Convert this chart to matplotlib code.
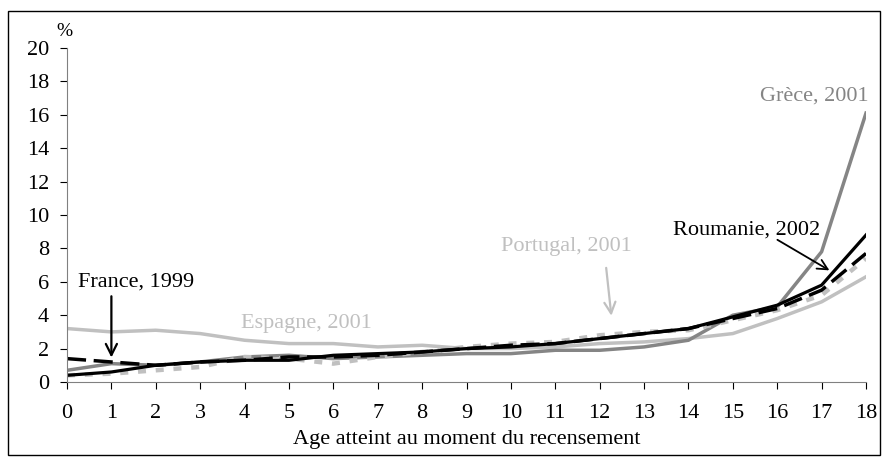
import matplotlib.pyplot as plt
from matplotlib.patches import Rectangle

# Données (lecture du graphique)
ages = list(range(19))
espagne = [3.2, 3.0, 3.1, 2.9, 2.5, 2.3, 2.3, 2.1, 2.2, 2.0, 2.0, 2.1, 2.3, 2.4, 2.6, 2.9, 3.8, 4.8, 6.3]
grece = [0.7, 1.1, 1.0, 1.2, 1.5, 1.6, 1.4, 1.5, 1.6, 1.7, 1.7, 1.9, 1.9, 2.1, 2.5, 4.0, 4.5, 7.8, 16.1]
france = [1.4, 1.2, 1.0, 1.2, 1.3, 1.5, 1.5, 1.6, 1.8, 2.0, 2.2, 2.3, 2.6, 2.9, 3.2, 3.8, 4.4, 5.5, 7.7]
roumanie = [0.4, 0.6, 1.0, 1.2, 1.3, 1.3, 1.6, 1.7, 1.8, 2.0, 2.1, 2.3, 2.6, 2.9, 3.2, 3.9, 4.6, 5.8, 8.8]
portugal = [0.4, 0.5, 0.7, 0.9, 1.5, 1.4, 1.1, 1.5, 1.8, 2.1, 2.3, 2.4, 2.8, 3.0, 3.1, 3.7, 4.3, 5.2, 7.4]
yticks = list(range(0, 21, 2))

plt.rcParams['font.family'] = ['Liberation Serif', 'DejaVu Serif']
plt.rcParams['font.size'] = 16

fig = plt.figure(figsize=(8.83, 4.59), dpi=100)
ax = fig.add_axes([67 / 883, 1 - 382 / 459, 799 / 883, 334 / 459])

# cadre autour de la figure
fig.patches.append(Rectangle((8 / 883, 4 / 459), 872 / 883, 444 / 459, transform=fig.transFigure,
                             fill=False, edgecolor='black', linewidth=1))

gris_clair = '#c0c0c0'
gris = '#858585'

ax.plot(ages, espagne, color=gris_clair, lw=2.5)
ax.plot(ages, grece, color=gris, lw=2.5)
ax.plot(ages, portugal, color=gris_clair, lw=3.2, dashes=(1.8, 2.2))
ax.plot(ages, roumanie, color='black', lw=2.3)
ax.plot(ages, france, color='black', lw=2.5, dashes=(5.5, 2.2))

ax.set_xlim(0, 18)
ax.set_ylim(0, 20)
ax.set_xticks(ages)
ax.set_yticks(yticks)
ax.spines['top'].set_visible(False)
ax.spines['right'].set_visible(False)
for s in ['left', 'bottom']:
    ax.spines[s].set_color('#808080')
ax.tick_params(axis='both', direction='out', length=5, color='black', width=0.8)
ax.tick_params(axis='x', pad=11)
ax.tick_params(axis='y', pad=8)
ax.set_xlabel('Age atteint au moment du recensement', labelpad=5)
ax.text(-0.05, 20.5, '%', ha='center', va='bottom', fontsize=14)

# étiquettes
ax.text(1.55, 6.0, 'France, 1999', ha='center', va='center', color='black')
ax.annotate('', xy=(1, 1.3), xytext=(1, 5.3),
            arrowprops=dict(arrowstyle='->', color='black', lw=1.6, mutation_scale=20))
ax.text(5.4, 3.5, 'Espagne, 2001', ha='center', va='center', color=gris_clair)
ax.text(11.25, 8.1, 'Portugal, 2001', ha='center', va='center', color=gris_clair)
ax.annotate('', xy=(12.27, 3.8), xytext=(12.14, 7.0),
            arrowprops=dict(arrowstyle='->', color=gris_clair, lw=1.6, mutation_scale=20))
ax.text(15.3, 9.1, 'Roumanie, 2002', ha='center', va='center', color='black')
ax.annotate('', xy=(17.23, 6.6), xytext=(15.95, 8.6),
            arrowprops=dict(arrowstyle='->', color='black', lw=1.3, mutation_scale=18))
ax.text(18.05, 17.1, 'Grèce, 2001', ha='right', va='center', color=gris)

fig.savefig('out.png', dpi=100)
